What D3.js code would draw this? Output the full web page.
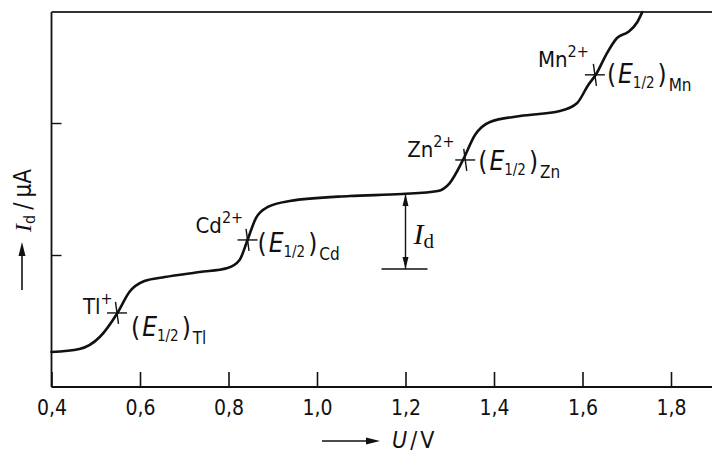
<!DOCTYPE html>
<html>
<head>
<meta charset="utf-8">
<script src="https://cdn.jsdelivr.net/npm/d3@7"></script>
<style>
  html, body { margin: 0; padding: 0; background: #fff; }
  svg { display: block; }
  text { font-family: "DejaVu Sans Condensed", "DejaVu Sans", sans-serif; fill: #111; }
</style>
</head>
<body>
<svg id="chart" width="712" height="454"></svg>
<script>
// ---- data ----
const potentialU = [0.400, 0.463, 0.509, 0.549, 0.576, 0.610, 0.656, 0.735, 0.798, 0.825, 0.843, 0.862, 0.889, 0.938, 1.074, 1.192, 1.273, 1.300, 1.330, 1.357, 1.391, 1.459, 1.549, 1.588, 1.613, 1.631, 1.653, 1.678, 1.703, 1.724, 1.735];
const currentI   = [0.265, 0.288, 0.379, 0.561, 0.720, 0.803, 0.833, 0.871, 0.902, 0.962, 1.114, 1.280, 1.364, 1.409, 1.447, 1.462, 1.485, 1.545, 1.720, 1.909, 2.008, 2.053, 2.091, 2.152, 2.288, 2.371, 2.515, 2.644, 2.689, 2.765, 2.840];
const ionNames   = ["Tl", "Cd", "Zn", "Mn"];
const ionCharges = ["+", "2+", "2+", "2+"];
const halfWaveU  = [0.548, 0.843, 1.335, 1.628];
const halfWaveI  = [0.561, 1.114, 1.720, 2.365];
const xTickValues = [0.4, 0.6, 0.8, 1.0, 1.2, 1.4, 1.6, 1.8];
const yTickValues = [1, 2];
const idMarkerU = 1.2;
const idLevels  = [0.894, 1.462];

// ---- layout ----
const svg = d3.select("#chart");
const W = 712, H = 454;
const x = d3.scaleLinear().domain([0.4, 1.8]).range([51.5, 671]);
const y = d3.scaleLinear().domain([0, 2.841]).range([387, 12]);
const ink = "#111";

// axes box (left, bottom, top)
svg.append("line").attr("x1", x(0.4)).attr("x2", W).attr("y1", y(0)).attr("y2", y(0))
  .attr("stroke", ink).attr("stroke-width", 1.8);
svg.append("line").attr("x1", x(0.4)).attr("x2", x(0.4)).attr("y1", y(0)).attr("y2", y.range()[1])
  .attr("stroke", ink).attr("stroke-width", 1.8);
svg.append("line").attr("x1", x(0.4)).attr("x2", W).attr("y1", y.range()[1]).attr("y2", y.range()[1])
  .attr("stroke", "#333").attr("stroke-width", 1.8);

const fmt = d3.format(".1f");
const xAxis = d3.axisBottom(x).tickValues(xTickValues).tickSizeInner(-15).tickSizeOuter(0)
  .tickPadding(24).tickFormat(d => fmt(d).replace(".", ","));
const gx = svg.append("g").attr("transform", `translate(0,${y(0)})`).call(xAxis);
gx.select(".domain").remove();
gx.selectAll(".tick line").attr("stroke", ink).attr("stroke-width", 1.6);
gx.selectAll(".tick text").attr("font-size", 21).attr("dy", "0.2em")
  .style("font-family", '"DejaVu Sans Condensed", sans-serif').attr("fill", ink);

const yAxis = d3.axisLeft(y).tickValues(yTickValues).tickSizeInner(-10).tickSizeOuter(0).tickFormat("");
const gy = svg.append("g").attr("transform", `translate(${x(0.4)},0)`).call(yAxis);
gy.select(".domain").remove();
gy.selectAll(".tick line").attr("stroke", ink).attr("stroke-width", 1.4);

// polarogram curve
const pts = potentialU.map((u, i) => [u, currentI[i]]);
const line = d3.line().x(d => x(d[0])).y(d => y(d[1])).curve(d3.curveMonotoneX);
svg.append("path").datum(pts).attr("d", line)
  .attr("fill", "none").attr("stroke", ink).attr("stroke-width", 2.6)
  .attr("stroke-linejoin", "round").attr("stroke-linecap", "round");

// half-wave crosses and labels
const ionOffset = [[-34, 1], [-52, -7], [-58, -3], [-57, -8]];
const eOffset   = [[14, 23], [10, 12], [13, 10], [12, 8]];
halfWaveU.forEach((u, i) => {
  const cx = x(u), cy = y(halfWaveI[i]);
  svg.append("line").attr("x1", cx - 10).attr("x2", cx + 10).attr("y1", cy).attr("y2", cy)
    .attr("stroke", ink).attr("stroke-width", 1.4);
  svg.append("line").attr("x1", cx - 1.5).attr("x2", cx + 1.5).attr("y1", cy - 11).attr("y2", cy + 11)
    .attr("stroke", ink).attr("stroke-width", 1.4);

  const t = svg.append("text").attr("x", cx + ionOffset[i][0]).attr("y", cy + ionOffset[i][1])
    .attr("font-size", 22);
  t.append("tspan").text(ionNames[i]);
  t.append("tspan").attr("font-size", 16).attr("dy", -10).text(ionCharges[i]);

  const e = svg.append("text").attr("x", cx + eOffset[i][0]).attr("y", cy + eOffset[i][1])
    .attr("font-size", 26);
  e.append("tspan").text("(");
  e.append("tspan").attr("dx", 2).attr("font-style", "italic").text("E");
  e.append("tspan").attr("font-size", 15).attr("dy", 5).text("1/2");
  e.append("tspan").attr("dx", 3).attr("dy", -5).text(")");
  e.append("tspan").attr("dx", 2).attr("font-size", 17).attr("dy", 8).text(ionNames[i]);
});

// diffusion current marker
const ix = x(idMarkerU);
const yb = y(idLevels[0]), yt = y(idLevels[1]);
svg.append("line").attr("x1", ix - 24).attr("x2", ix + 22).attr("y1", yb).attr("y2", yb)
  .attr("stroke", ink).attr("stroke-width", 1.4);
svg.append("line").attr("x1", ix).attr("x2", ix).attr("y1", yt).attr("y2", yb)
  .attr("stroke", ink).attr("stroke-width", 1.4);
svg.append("path").attr("d", `M${ix},${yt} l-3,12 l6,0 z M${ix},${yb} l-3,-12 l6,0 z`)
  .attr("fill", ink);
const idl = svg.append("text").attr("x", ix + 8).attr("y", yt + 50)
  .style("font-family", '"Liberation Serif", serif').attr("font-size", 30);
idl.append("tspan").attr("font-style", "italic").text("I");
idl.append("tspan").attr("font-size", 21).attr("dy", 4).text("d");

// y axis label (rotated)
const yl = svg.append("g").attr("transform", "translate(25,0)");
yl.append("line").attr("x1", -3).attr("x2", -3).attr("y1", 290).attr("y2", 250)
  .attr("stroke", ink).attr("stroke-width", 1.6);
yl.append("path").attr("d", "M-3,242 l-3.5,14 l7,0 z").attr("fill", ink);
const ylt = yl.append("text").attr("transform", "translate(6,232) rotate(-90)")
  .attr("font-size", 24);
ylt.append("tspan").style("font-family", '"Liberation Serif", serif').attr("font-style", "italic").text("I");
ylt.append("tspan").attr("font-size", 16).attr("dy", 4).text("d");
ylt.append("tspan").attr("dy", -4).attr("dx", 5).text("/");
ylt.append("tspan").attr("dx", 5).text("μA");

// x axis label
svg.append("line").attr("x1", 322).attr("x2", 368).attr("y1", 441).attr("y2", 441)
  .attr("stroke", ink).attr("stroke-width", 1.6);
svg.append("path").attr("d", "M380,441 l-14,-3.5 l0,7 z").attr("fill", ink);
const xl = svg.append("text").attr("x", 392).attr("y", 448).attr("font-size", 23);
xl.append("tspan").attr("font-style", "italic").text("U");
xl.append("tspan").attr("dx", 3).text("/");
xl.append("tspan").attr("dx", 3).text("V");
</script>
</body>
</html>
